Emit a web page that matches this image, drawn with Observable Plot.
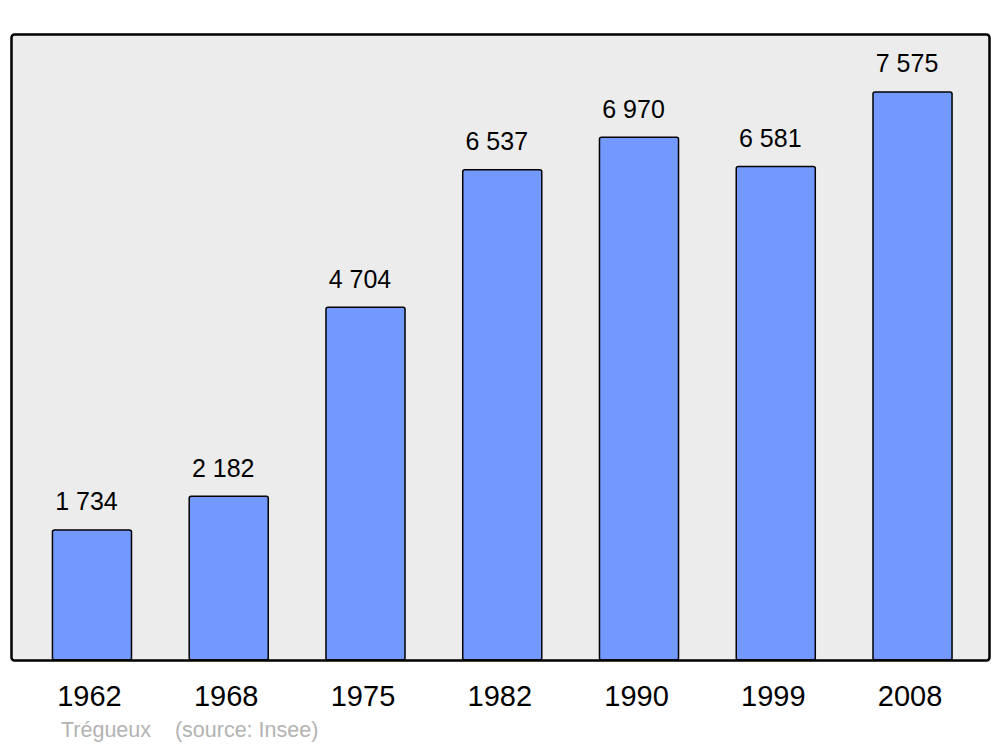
<!DOCTYPE html>
<html><head><meta charset="utf-8">
<script src="https://cdn.jsdelivr.net/npm/d3@7"></script>
<script src="https://cdn.jsdelivr.net/npm/@observablehq/plot@0.6"></script>
<style>
body{margin:0;background:#fff;font-family:"Liberation Sans",Arial,sans-serif;}
#cap{font-size:21.5px;color:#b3b3b3;padding-left:61px;white-space:pre;line-height:26px;margin-top:2px;}
</style></head>
<body><div id="chart"></div><div id="cap"></div>
<script>
const years = ["1962","1968","1975","1982","1990","1999","2008"];
const population = [1734, 2182, 4704, 6537, 6970, 6581, 7575];
const caption = "Trégueux    (source: Insee)";

const data = years.map((y, i) => ({year: y, pop: population[i]}));
const fmt = d3.formatLocale({decimal: ",", thousands: " ", grouping: [3]}).format(",d");

const chart = Plot.plot({
  width: 1000, height: 715,
  marginTop: 34, marginBottom: 55, marginLeft: 11, marginRight: 11,
  style: {fontFamily: "Liberation Sans, Arial, sans-serif", background: "white"},
  x: {domain: years, range: [23.6, 980.9], paddingInner: 0.422, paddingOuter: 0.211, round: false, label: null},
  y: {domain: [0, 8347], axis: null},
  marks: [
    Plot.frame({fill: "#ececec", stroke: null, rx: 3}),
    Plot.barY(data, {x: "year", y: "pop", fill: "#7399ff", stroke: "black", strokeWidth: 1.5, rx: 2}),
    Plot.text(data, {x: "year", y: "pop", text: d => fmt(d.pop), dy: -28, dx: -6, fontSize: 25, fill: "black"}),
    Plot.frame({stroke: "black", strokeWidth: 2.5, rx: 3}),
    Plot.axisX({tickSize: 0, tickPadding: 25, dx: -3, fontSize: 29, color: "black", label: null})
  ]
});
document.getElementById("chart").append(chart);
document.getElementById("cap").textContent = caption;
</script></body></html>
